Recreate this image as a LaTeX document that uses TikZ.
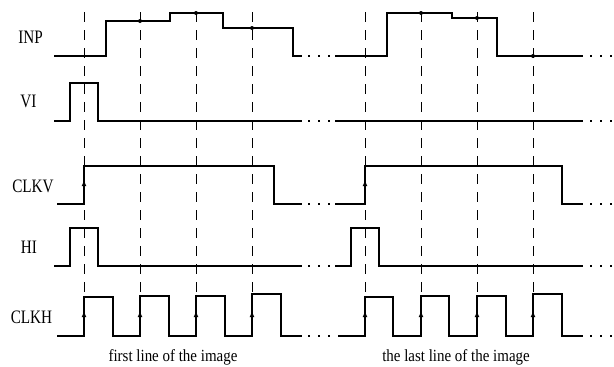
\documentclass[tikz,border=0pt]{standalone}
\usepackage{fontspec}
\setmainfont{Liberation Serif}
\usetikzlibrary{arrows,arrows.meta}

\begin{document}
\begin{tikzpicture}[x=1pt,y=-1pt,
  sig/.style={line width=1.2pt},
  guide/.style={dash pattern=on 10pt off 8pt, line width=0.8pt},
  cont/.style={line width=1.2pt, dash pattern=on 1.5pt off 8.5pt},
  rise/.style={-{Latex[length=6pt,width=5pt]}, line width=1.2pt},
  lbl/.style={anchor=base, font=\fontsize{19}{21}\selectfont, xscale=0.8},
  linetext/.style={anchor=base, font=\fontsize{17}{19}\selectfont, xscale=0.88}]
  \useasboundingbox (0,0) rectangle (614,367);

  \draw [guide] (84,12) -- (84,297);
  \draw [guide] (140,12) -- (140,296);
  \draw [guide] (196,12) -- (196,296);
  \draw [guide] (252,12) -- (252,294);
  \draw [guide] (365,12) -- (365,297);
  \draw [guide] (421,12) -- (421,296);
  \draw [guide] (477,12) -- (477,296);
  \draw [guide] (533,12) -- (533,294);

  \node [lbl] (inp) at (30.5,43) {INP};
  \node [lbl] (vi) at (28.5,107) {VI};
  \node [lbl] (clkv) at (33,192) {CLKV};
  \node [lbl] (hi) at (29,253) {HI};
  \node [lbl] (clkh) at (31.5,323) {CLKH};

  \draw [sig] (54,56) -- (106,56) -- (106,21) -- (170,21) -- (170,13) -- (223,13)
    -- (223,28) -- (293,28) -- (293,56) -- (302,56);
  \draw [sig] (335,56) -- (387,56) -- (387,13) -- (452,13) -- (452,18) -- (497,18)
    -- (497,56) -- (583,56);
  \fill (140,21) circle (2pt);
  \fill (196,13) circle (2pt);
  \fill (252,28) circle (2pt);
  \fill (421,13) circle (2pt);
  \fill (477,18) circle (2pt);
  \fill (533,56) circle (2pt);

  \draw [sig] (54,121) -- (70,121) -- (70,83) -- (98,83) -- (98,121) -- (302,121);
  \draw [sig] (335,121) -- (583,121);

  \draw [sig] (57,204) -- (84,204) -- (84,166) -- (274,166) -- (274,204) -- (302,204);
  \draw [sig] (335,204) -- (365,204) -- (365,166) -- (562,166) -- (562,204) -- (583,204);
  \draw [rise] (84,204) -- (84,180);
  \draw [rise] (365,204) -- (365,180);

  \draw [sig] (54,266) -- (70,266) -- (70,228) -- (98,228) -- (98,266) -- (302,266);
  \draw [sig] (335,266) -- (351,266) -- (351,228) -- (379,228) -- (379,266) -- (583,266);

  \draw [sig] (57,336) -- (84,336) -- (84,297) -- (113,297) -- (113,336) -- (140,336)
    -- (140,296) -- (169,296) -- (169,336) -- (196,336) -- (196,296) -- (225,296)
    -- (225,336) -- (252,336) -- (252,294) -- (281,294) -- (281,336) -- (302,336);
  \draw [sig] (338,336) -- (365,336) -- (365,297) -- (393,297) -- (393,336) -- (421,336)
    -- (421,296) -- (449,296) -- (449,336) -- (477,336) -- (477,296) -- (506,296)
    -- (506,336) -- (533,336) -- (533,294) -- (562,294) -- (562,336) -- (583,336);
  \draw [rise] (84,336) -- (84,311);
  \draw [rise] (140,336) -- (140,311);
  \draw [rise] (196,336) -- (196,311);
  \draw [rise] (252,336) -- (252,311);
  \draw [rise] (365,336) -- (365,311);
  \draw [rise] (421,336) -- (421,311);
  \draw [rise] (477,336) -- (477,311);
  \draw [rise] (533,336) -- (533,311);

  \draw [cont] (308,56) -- (331,56);
  \draw [cont] (308,121) -- (331,121);
  \draw [cont] (308,204) -- (331,204);
  \draw [cont] (308,266) -- (331,266);
  \draw [cont] (308,336) -- (331,336);
  \draw [cont] (590,56) -- (613,56);
  \draw [cont] (590,121) -- (613,121);
  \draw [cont] (590,204) -- (613,204);
  \draw [cont] (590,266) -- (613,266);
  \draw [cont] (590,336) -- (613,336);

  \node [linetext] (first) at (173,361) {first line of the image};
  \node [linetext] (last) at (456,361) {the last line of the image};
\end{tikzpicture}
\end{document}
